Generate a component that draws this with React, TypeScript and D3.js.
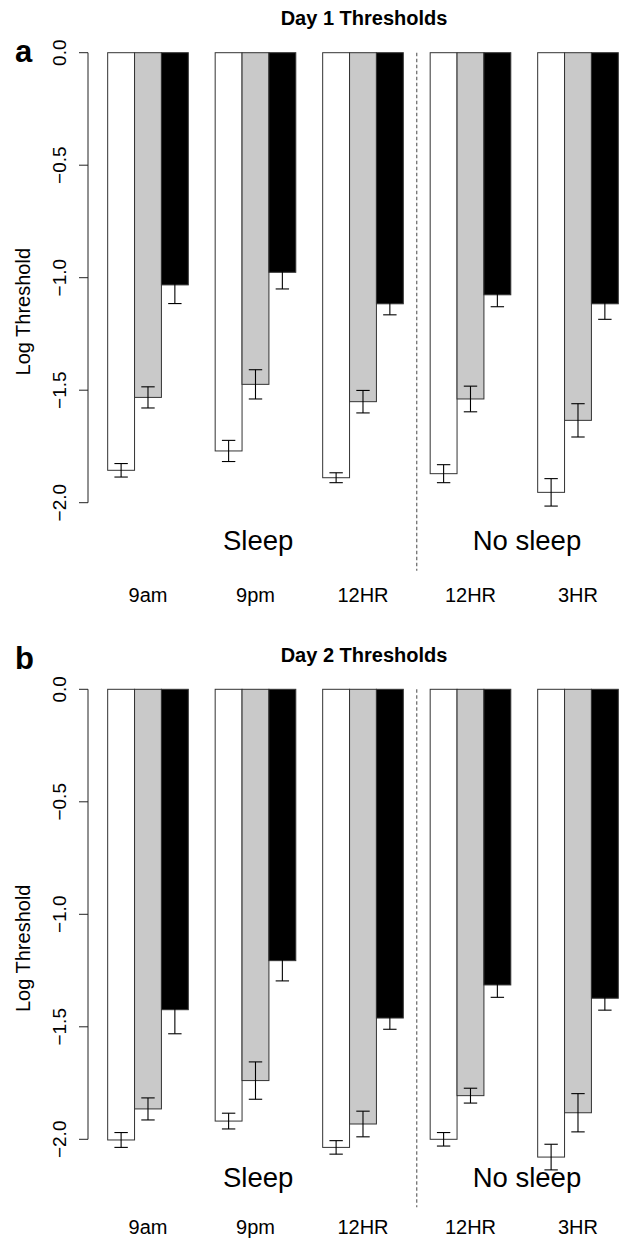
import React from 'react'
import * as d3 from 'd3'

const categories = ['9am', '9pm', '12HR', '12HR', '3HR']
const groupLabels = ['Sleep', 'No sleep']
const yTicks = [0, -0.5, -1, -1.5, -2]

// Day 1 (panel a)
const day1White = [-1.856, -1.77, -1.889, -1.871, -1.954]
const day1WhiteErr = [0.03, 0.047, 0.022, 0.04, 0.061]
const day1Gray = [-1.532, -1.474, -1.551, -1.539, -1.634]
const day1GrayErr = [0.047, 0.065, 0.05, 0.057, 0.074]
const day1Black = [-1.032, -0.976, -1.116, -1.076, -1.116]
const day1BlackErr = [0.083, 0.074, 0.049, 0.053, 0.069]

// Day 2 (panel b)
const day2White = [-2.003, -1.919, -2.036, -2.0, -2.079]
const day2WhiteErr = [0.033, 0.035, 0.03, 0.03, 0.057]
const day2Gray = [-1.865, -1.739, -1.932, -1.806, -1.882]
const day2GrayErr = [0.049, 0.083, 0.057, 0.033, 0.085]
const day2Black = [-1.424, -1.206, -1.461, -1.314, -1.373]
const day2BlackErr = [0.107, 0.09, 0.05, 0.055, 0.053]

const fills = ['#ffffff', '#c9c9c9', '#000000']
const font = '"Liberation Sans", Arial, Helvetica, sans-serif'

const W = 625
const H = 1239

// bar units: each group = 3 bars + 1 gap
const x = d3.scaleLinear().domain([0, 20]).range([80.8, 618.3])

function fmt(v: number) {
  return v === 0 ? '0.0' : '\u2212' + Math.abs(v).toFixed(1)
}

function Panel({ top, letter, letterY, title, series, errs }: any) {
  const y = d3.scaleLinear().domain([0, -2]).range([top, top + 450])
  const axisX = 88
  const bw = x(1) - x(0)
  const catY = Math.min(top + 549, H - 5)

  return (
    <g>
      <text x={15} y={letterY} fontFamily={font} fontWeight="bold" fontSize={31}>{letter}</text>
      <text x={364} y={top - 27.5} fontFamily={font} fontWeight="bold" fontSize={20} textAnchor="middle">{title}</text>

      {/* y axis */}
      <line x1={axisX} x2={axisX} y1={y(0)} y2={y(-2)} stroke="#222" />
      {yTicks.map(t => (
        <g key={t}>
          <line x1={axisX - 9} x2={axisX} y1={y(t)} y2={y(t)} stroke="#222" />
          <text transform={`translate(66,${y(t)}) rotate(-90)`} textAnchor="middle" fontFamily={font} fontSize={19}>{fmt(t)}</text>
        </g>
      ))}
      <text transform={`translate(30,${top + 259}) rotate(-90)`} textAnchor="middle" fontFamily={font} fontSize={20}>Log Threshold</text>

      {/* bars */}
      {categories.map((c, g) => (
        <g key={g}>
          {series.map((s: number[], j: number) => {
            const x0 = x(g * 4 + 1 + j)
            return (
              <rect key={j} x={x0} y={y(0)} width={bw} height={y(s[g]) - y(0)}
                fill={fills[j]} stroke="#333" strokeWidth={1} />
            )
          })}
          {series.map((s: number[], j: number) => {
            const cx = x(g * 4 + 1 + j + 0.5)
            const e = errs[j][g]
            const y1 = y(s[g] + e)
            const y2 = y(s[g] - e)
            return (
              <g key={'e' + j} stroke="#000" strokeWidth={1.1}>
                <line x1={cx} x2={cx} y1={y1} y2={y2} />
                <line x1={cx - 6.7} x2={cx + 6.7} y1={y1} y2={y1} />
                <line x1={cx - 6.7} x2={cx + 6.7} y1={y2} y2={y2} />
              </g>
            )
          })}
          <text x={x(g * 4 + 2.5)} y={catY} textAnchor="middle" fontFamily={font} fontSize={20}>{c}</text>
        </g>
      ))}

      {/* sleep / no sleep divider */}
      <line x1={x(12.5)} x2={x(12.5)} y1={y(0)} y2={top + 518} stroke="#666" strokeWidth={1.2} strokeDasharray="3.5,2.5" />
      <text x={x(6.6)} y={top + 497.5} textAnchor="middle" fontFamily={font} fontSize={27.5}>{groupLabels[0]}</text>
      <text x={x(16.6)} y={top + 497.5} textAnchor="middle" fontFamily={font} fontSize={27.5}>{groupLabels[1]}</text>
    </g>
  )
}

export default function App() {
  return (
    <svg width={W} height={H} style={{ position: 'absolute', left: 0, top: 0, background: '#fff' }}>
      <rect width={W} height={H} fill="#fff" />
      <Panel top={52.7} letter="a" letterY={61.7} title="Day 1 Thresholds"
        series={[day1White, day1Gray, day1Black]}
        errs={[day1WhiteErr, day1GrayErr, day1BlackErr]} />
      <Panel top={689.3} letter="b" letterY={669.3} title="Day 2 Thresholds"
        series={[day2White, day2Gray, day2Black]}
        errs={[day2WhiteErr, day2GrayErr, day2BlackErr]} />
    </svg>
  )
}
